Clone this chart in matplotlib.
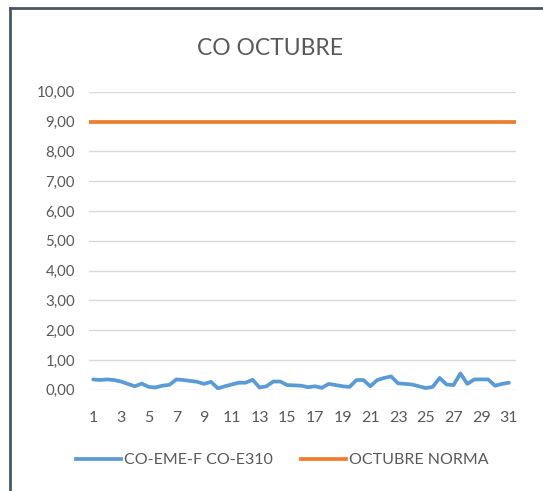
import matplotlib
matplotlib.use("Agg")
import matplotlib.pyplot as plt
from matplotlib.lines import Line2D

plt.rcParams['font.family'] = ['Lato', 'DejaVu Sans']

# Data (two readings per day, day 1 .. 31)
dias = [1 + 0.5 * i for i in range(61)]
co_eme = [0.35, 0.33, 0.35, 0.33, 0.28, 0.20, 0.12, 0.21, 0.10, 0.08,
          0.14, 0.17, 0.35, 0.33, 0.30, 0.27, 0.20, 0.27, 0.05, 0.12,
          0.18, 0.24, 0.24, 0.34, 0.08, 0.12, 0.28, 0.28, 0.16, 0.15,
          0.14, 0.09, 0.12, 0.07, 0.20, 0.16, 0.12, 0.10, 0.33, 0.33,
          0.12, 0.33, 0.40, 0.45, 0.22, 0.20, 0.18, 0.12, 0.06, 0.10,
          0.40, 0.18, 0.16, 0.55, 0.20, 0.35, 0.35, 0.35, 0.14, 0.20,
          0.24]
norma = 9.0
x_ticks = list(range(1, 32, 2))
y_ticks = list(range(0, 11))

blue = '#5b9bd5'
orange = '#ed7d31'
grey_text = '#595959'

fig = plt.figure(figsize=(5.43, 4.91), dpi=100)
ax = fig.add_axes([0.164, 0.206, 0.786, 0.607])

ax.plot(dias, co_eme, color=blue, lw=2.7, solid_capstyle='round',
        solid_joinstyle='round', zorder=3)
ax.axhline(norma, color=orange, lw=2.7, zorder=3)

ax.set_xlim(0.7, 31.5)
ax.set_ylim(0, 10)
ax.set_yticks(y_ticks)
ax.set_yticklabels([f'{v:.2f}'.replace('.', ',') for v in y_ticks])
ax.set_xticks(x_ticks)
ax.set_xticklabels([str(v) for v in x_ticks])
ax.tick_params(length=0, colors=grey_text)
ax.tick_params(axis='x', pad=15, labelsize=11.5)
ax.tick_params(axis='y', pad=10, labelsize=10.8)
ax.grid(axis='y', color='#d9d9d9', lw=1)
ax.set_axisbelow(True)
for s in ax.spines.values():
    s.set_visible(False)

fig.text(0.498, 0.902, 'CO OCTUBRE', ha='center', va='center',
         fontsize=16.5, color=grey_text)

handles = [Line2D([], [], color=blue, lw=2.7),
           Line2D([], [], color=orange, lw=2.7)]
fig.legend(handles, ['CO-EME-F CO-E310', 'OCTUBRE NORMA'], loc='center',
           bbox_to_anchor=(0.52, 0.063), ncol=2, frameon=False,
           fontsize=11.5, labelcolor=grey_text, handlelength=2.8,
           handletextpad=0.2, columnspacing=1.8)

# window frame lines seen in the screenshot
fig.add_artist(Line2D([0.019, 0.019], [0, 0.984], color='#4a5568', lw=2,
                      transform=fig.transFigure))
fig.add_artist(Line2D([0.019, 1], [0.984, 0.984], color='#4a5568', lw=2,
                      transform=fig.transFigure))

fig.savefig('out.png', dpi=100)
